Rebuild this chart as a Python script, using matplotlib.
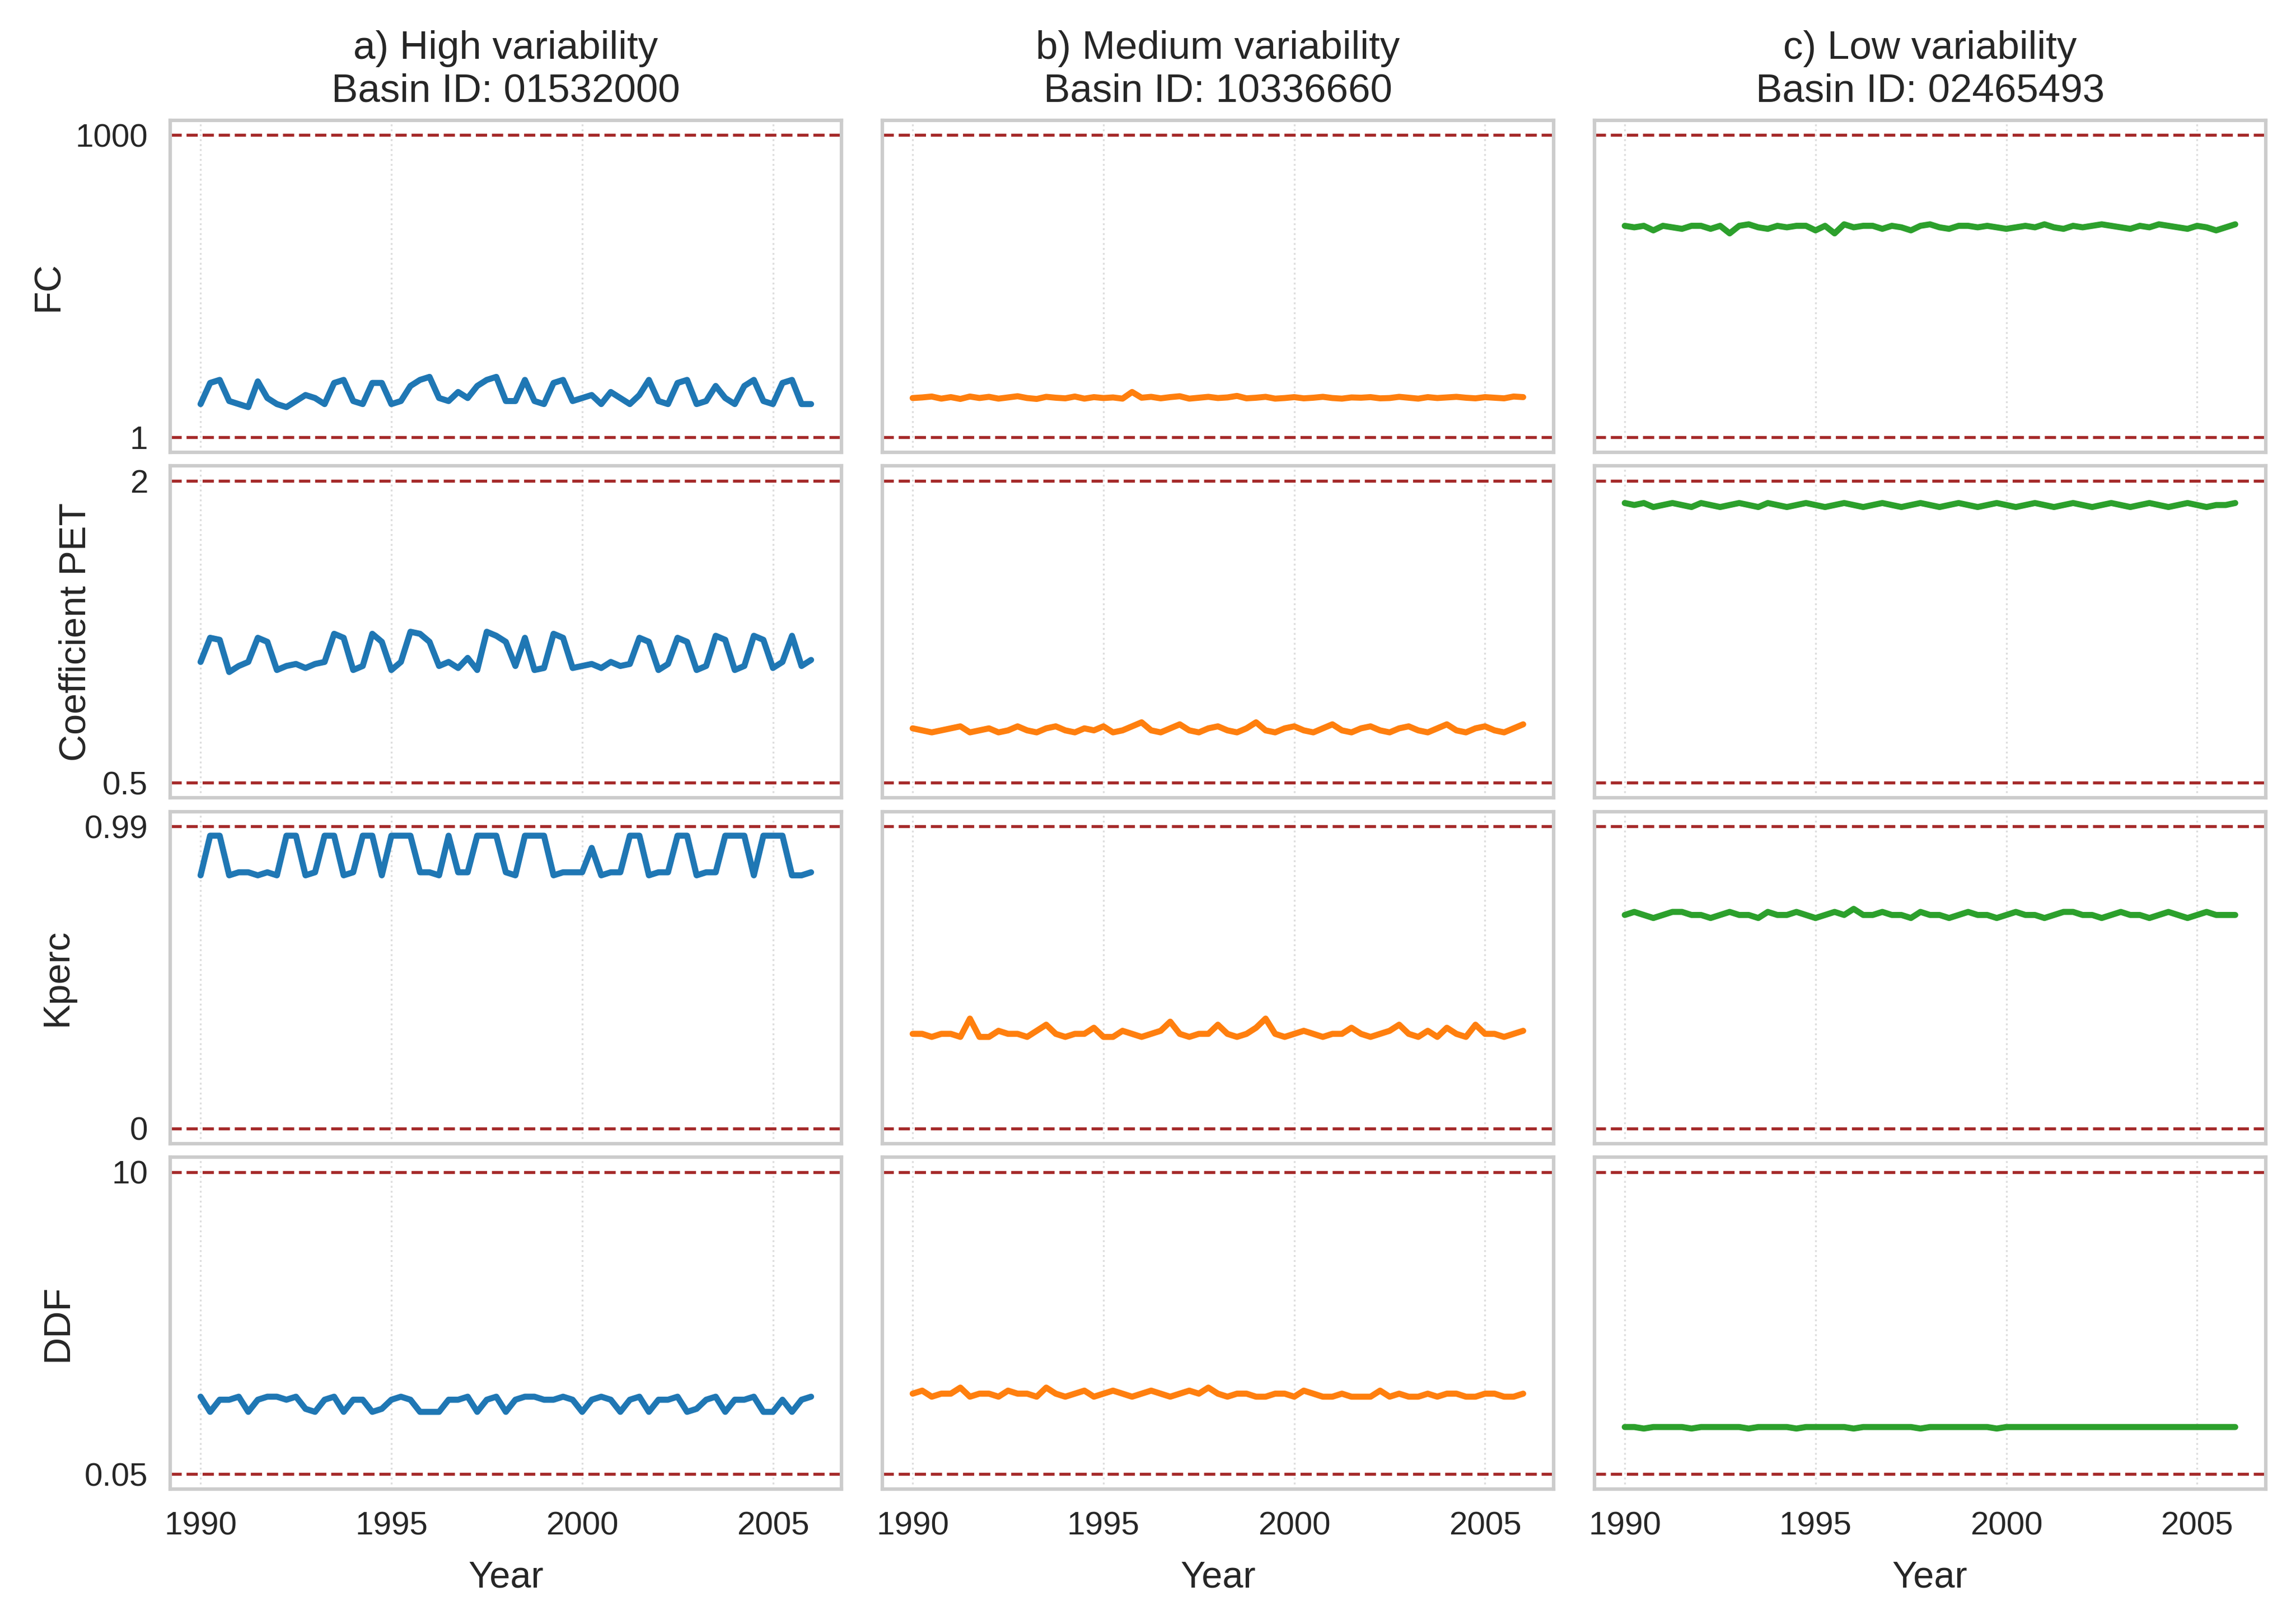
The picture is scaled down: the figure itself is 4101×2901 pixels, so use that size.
import matplotlib.pyplot as plt
import numpy as np
import seaborn as sns

sns.set_theme(style="whitegrid")
plt.rcParams['font.family'] = ['Liberation Sans', 'DejaVu Sans']

years = 1990 + np.arange(65) / 4.0

fc_high = [110, 180, 190, 120, 110, 100, 185, 130, 110, 100, 120, 140, 130, 110, 180, 190,
           120, 110, 180, 180, 110, 120, 170, 190, 200, 130, 120, 150, 130, 170, 190, 200,
           120, 120, 190, 120, 110, 180, 190, 120, 130, 140, 110, 150, 130, 110, 140, 190,
           120, 110, 180, 190, 110, 120, 170, 130, 110, 170, 190, 120, 110, 180, 190, 110, 110]
fc_med = [130, 132, 135, 128, 133, 127, 135, 130, 134, 128, 132, 136, 130, 127, 134, 131,
          129, 135, 128, 133, 130, 132, 128, 150, 131, 134, 129, 133, 136, 128, 131, 134,
          130, 132, 137, 129, 131, 134, 128, 130, 133, 129, 131, 134, 130, 128, 132, 131,
          133, 129, 130, 134, 131, 128, 133, 130, 132, 134, 131, 129, 133, 131, 129, 135, 133]
fc_low = [700, 695, 700, 685, 700, 695, 690, 700, 700, 690, 700, 675, 700, 705, 695, 690,
          700, 695, 700, 700, 685, 700, 675, 705, 695, 700, 700, 690, 700, 695, 685, 700,
          705, 695, 690, 700, 700, 695, 700, 695, 690, 695, 700, 695, 705, 695, 690, 700,
          695, 700, 705, 700, 695, 690, 700, 695, 705, 700, 695, 690, 700, 695, 685, 695, 705]

pet_high = [1.10, 1.22, 1.21, 1.05, 1.08, 1.10, 1.22, 1.20, 1.06, 1.08, 1.09, 1.07, 1.09, 1.10, 1.24, 1.22,
            1.06, 1.08, 1.24, 1.20, 1.06, 1.10, 1.25, 1.24, 1.20, 1.08, 1.10, 1.07, 1.12, 1.06, 1.25, 1.23,
            1.20, 1.08, 1.22, 1.06, 1.07, 1.24, 1.22, 1.07, 1.08, 1.09, 1.07, 1.10, 1.08, 1.09, 1.22, 1.20,
            1.06, 1.09, 1.22, 1.20, 1.06, 1.08, 1.23, 1.21, 1.06, 1.08, 1.23, 1.21, 1.07, 1.10, 1.23, 1.08, 1.11]
pet_med = [0.77, 0.76, 0.75, 0.76, 0.77, 0.78, 0.75, 0.76, 0.77, 0.75, 0.76, 0.78, 0.76, 0.75, 0.77, 0.78,
           0.76, 0.75, 0.77, 0.76, 0.78, 0.75, 0.76, 0.78, 0.80, 0.76, 0.75, 0.77, 0.79, 0.76, 0.75, 0.77,
           0.78, 0.76, 0.75, 0.77, 0.80, 0.76, 0.75, 0.77, 0.78, 0.76, 0.75, 0.77, 0.79, 0.76, 0.75, 0.77,
           0.78, 0.76, 0.75, 0.77, 0.78, 0.76, 0.75, 0.77, 0.79, 0.76, 0.75, 0.77, 0.78, 0.76, 0.75, 0.77, 0.79]
pet_low = [1.89, 1.88, 1.89, 1.87, 1.88, 1.89, 1.88, 1.87, 1.89, 1.88, 1.87, 1.88, 1.89, 1.88, 1.87, 1.89,
           1.88, 1.87, 1.88, 1.89, 1.88, 1.87, 1.88, 1.89, 1.88, 1.87, 1.88, 1.89, 1.88, 1.87, 1.88, 1.89,
           1.88, 1.87, 1.88, 1.89, 1.88, 1.87, 1.88, 1.89, 1.88, 1.87, 1.88, 1.89, 1.88, 1.87, 1.88, 1.89,
           1.88, 1.87, 1.88, 1.89, 1.88, 1.87, 1.88, 1.89, 1.88, 1.87, 1.88, 1.89, 1.88, 1.87, 1.88, 1.88, 1.89]

kp_high = [0.83, 0.96, 0.96, 0.83, 0.84, 0.84, 0.83, 0.84, 0.83, 0.96, 0.96, 0.83, 0.84, 0.96, 0.96, 0.83,
           0.84, 0.96, 0.96, 0.83, 0.96, 0.96, 0.96, 0.84, 0.84, 0.83, 0.96, 0.84, 0.84, 0.96, 0.96, 0.96,
           0.84, 0.83, 0.96, 0.96, 0.96, 0.83, 0.84, 0.84, 0.84, 0.92, 0.83, 0.84, 0.84, 0.96, 0.96, 0.83,
           0.84, 0.84, 0.96, 0.96, 0.83, 0.84, 0.84, 0.96, 0.96, 0.96, 0.83, 0.96, 0.96, 0.96, 0.83, 0.83, 0.84]
kp_med = [0.31, 0.31, 0.30, 0.31, 0.31, 0.30, 0.36, 0.30, 0.30, 0.32, 0.31, 0.31, 0.30, 0.32, 0.34, 0.31,
          0.30, 0.31, 0.31, 0.33, 0.30, 0.30, 0.32, 0.31, 0.30, 0.31, 0.32, 0.35, 0.31, 0.30, 0.31, 0.31,
          0.34, 0.31, 0.30, 0.31, 0.33, 0.36, 0.31, 0.30, 0.31, 0.32, 0.31, 0.30, 0.31, 0.31, 0.33, 0.31,
          0.30, 0.31, 0.32, 0.34, 0.31, 0.30, 0.32, 0.30, 0.33, 0.31, 0.30, 0.34, 0.31, 0.31, 0.30, 0.31, 0.32]
kp_low = [0.70, 0.71, 0.70, 0.69, 0.70, 0.71, 0.71, 0.70, 0.70, 0.69, 0.70, 0.71, 0.70, 0.70, 0.69, 0.71,
          0.70, 0.70, 0.71, 0.70, 0.69, 0.70, 0.71, 0.70, 0.72, 0.70, 0.70, 0.71, 0.70, 0.70, 0.69, 0.71,
          0.70, 0.70, 0.69, 0.70, 0.71, 0.70, 0.70, 0.69, 0.70, 0.71, 0.70, 0.70, 0.69, 0.70, 0.71, 0.71,
          0.70, 0.70, 0.69, 0.70, 0.71, 0.70, 0.70, 0.69, 0.70, 0.71, 0.70, 0.69, 0.70, 0.71, 0.70, 0.70, 0.70]

ddf_high = [2.6, 2.1, 2.5, 2.5, 2.6, 2.1, 2.5, 2.6, 2.6, 2.5, 2.6, 2.2, 2.1, 2.5, 2.6, 2.1,
            2.5, 2.5, 2.1, 2.2, 2.5, 2.6, 2.5, 2.1, 2.1, 2.1, 2.5, 2.5, 2.6, 2.1, 2.5, 2.6,
            2.1, 2.5, 2.6, 2.6, 2.5, 2.5, 2.6, 2.5, 2.1, 2.5, 2.6, 2.5, 2.1, 2.5, 2.6, 2.1,
            2.5, 2.5, 2.6, 2.1, 2.2, 2.5, 2.6, 2.1, 2.5, 2.5, 2.6, 2.1, 2.1, 2.5, 2.1, 2.5, 2.6]
ddf_med = [2.7, 2.8, 2.6, 2.7, 2.7, 2.9, 2.6, 2.7, 2.7, 2.6, 2.8, 2.7, 2.7, 2.6, 2.9, 2.7,
           2.6, 2.7, 2.8, 2.6, 2.7, 2.8, 2.7, 2.6, 2.7, 2.8, 2.7, 2.6, 2.7, 2.8, 2.7, 2.9,
           2.7, 2.6, 2.7, 2.7, 2.6, 2.6, 2.7, 2.7, 2.6, 2.8, 2.7, 2.6, 2.6, 2.7, 2.6, 2.6,
           2.6, 2.8, 2.6, 2.7, 2.6, 2.6, 2.7, 2.6, 2.7, 2.7, 2.6, 2.6, 2.7, 2.7, 2.6, 2.6, 2.7]
ddf_low = [1.6, 1.6, 1.55, 1.6, 1.6, 1.6, 1.6, 1.55, 1.6, 1.6, 1.6, 1.6, 1.6, 1.55, 1.6, 1.6,
           1.6, 1.6, 1.55, 1.6, 1.6, 1.6, 1.6, 1.6, 1.55, 1.6, 1.6, 1.6, 1.6, 1.6, 1.6, 1.55,
           1.6, 1.6, 1.6, 1.6, 1.6, 1.6, 1.6, 1.55, 1.6, 1.6, 1.6, 1.6, 1.6, 1.6, 1.6, 1.6,
           1.6, 1.6, 1.6, 1.6, 1.6, 1.6, 1.6, 1.6, 1.6, 1.6, 1.6, 1.6, 1.6, 1.6, 1.6, 1.6, 1.6]

params = ["FC", "Coefficient PET", "Kperc", "DDF"]
bounds = [(1, 1000), (0.5, 2), (0, 0.99), (0.05, 10)]
bound_labels = [("1", "1000"), ("0.5", "2"), ("0", "0.99"), ("0.05", "10")]
titles = ["a) High variability\nBasin ID: 01532000",
          "b) Medium variability\nBasin ID: 10336660",
          "c) Low variability\nBasin ID: 02465493"]
colors = ["#1f77b4", "#ff7f0e", "#2ca02c"]
series = [[fc_high, fc_med, fc_low],
          [pet_high, pet_med, pet_low],
          [kp_high, kp_med, kp_low],
          [ddf_high, ddf_med, ddf_low]]

fig, axes = plt.subplots(4, 3, figsize=(13.67, 9.67), sharex=True)
for i in range(4):
    lo, hi = bounds[i]
    pad = (hi - lo) * 0.05
    for j in range(3):
        ax = axes[i, j]
        ax.plot(years, series[i][j], color=colors[j], lw=2.6)
        ax.axhline(lo, color="#a52a2a", ls="--", lw=1.3)
        ax.axhline(hi, color="#a52a2a", ls="--", lw=1.3)
        ax.set_ylim(lo - pad, hi + pad)
        ax.set_yticks([lo, hi])
        ax.grid(axis="y", visible=False)
        ax.grid(axis="x", ls=":", color="#dddddd", lw=0.8)
        ax.set_xticks([1990, 1995, 2000, 2005])
        ax.set_xlim(1989.2, 2006.8)
        ax.tick_params(labelsize=14)
        for s in ax.spines.values():
            s.set_color("#cccccc")
            s.set_linewidth(1.5)
        if j == 0:
            ax.set_yticklabels(bound_labels[i])
            ax.set_ylabel(params[i], fontsize=16)
        else:
            ax.set_yticklabels([])
        if i == 0:
            ax.set_title(titles[j], fontsize=17, pad=8)
        if i == 3:
            ax.set_xlabel("Year", fontsize=16, labelpad=8)

fig.tight_layout(h_pad=0.3, w_pad=1.0)
fig.savefig("out.png", dpi=300)
